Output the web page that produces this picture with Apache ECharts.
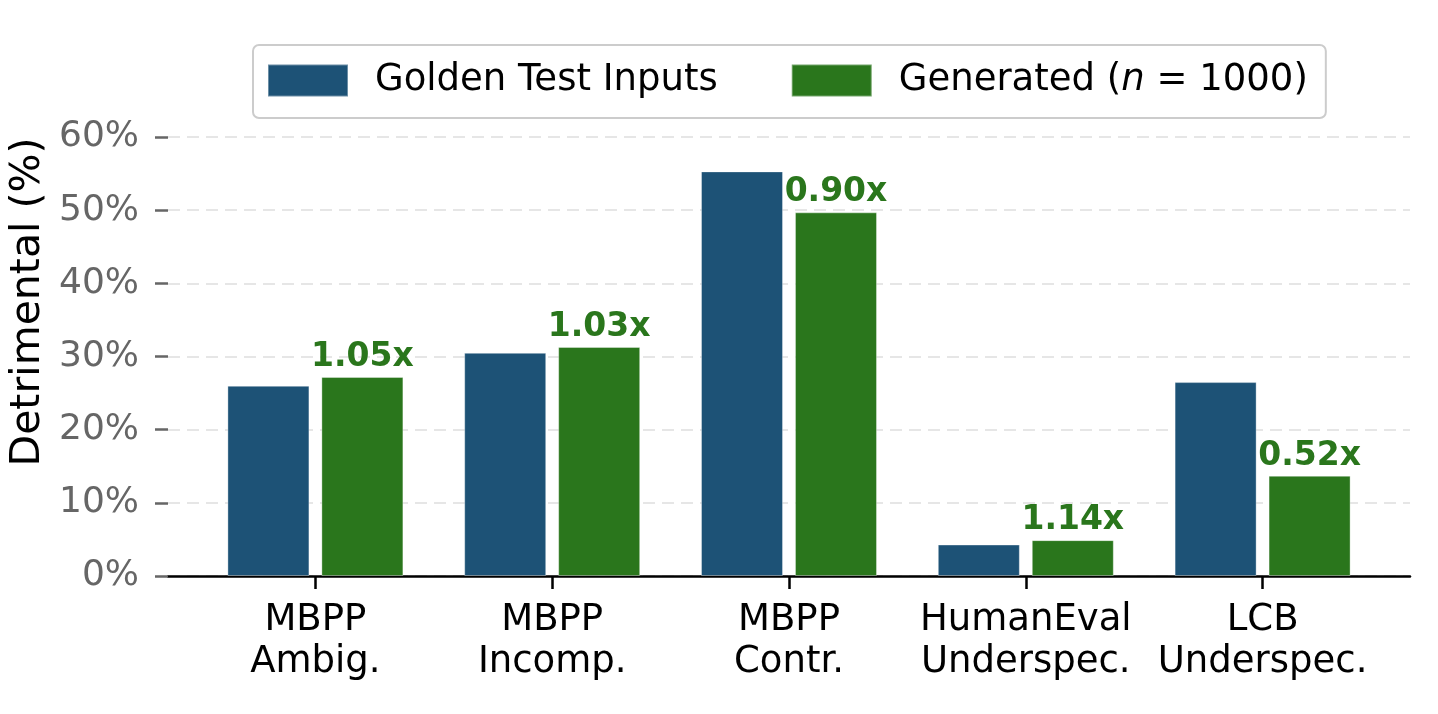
<!DOCTYPE html>
<html>
<head>
<meta charset="utf-8">
<script src="https://cdn.jsdelivr.net/npm/echarts@6/dist/echarts.min.js"></script>
<style>
  html, body { margin: 0; padding: 0; background: #fff; }
  #main { width: 1438px; height: 714px; }
</style>
</head>
<body>
<div id="main"></div>
<script>
// data
var categories = ['MBPP\nAmbig.', 'MBPP\nIncomp.', 'MBPP\nContr.', 'HumanEval\nUnderspec.', 'LCB\nUnderspec.'];
var golden = [26.0, 30.5, 55.3, 4.3, 26.5];
var generated = [27.2, 31.3, 49.7, 4.9, 13.7];
var ratios = ['1.05x', '1.03x', '0.90x', '1.14x', '0.52x'];
var yTicks = [0, 10, 20, 30, 40, 50, 60];

var BLUE = '#1d5276';
var GREEN = '#2a761c';
var FONT = 'DejaVu Sans';

var myChart = echarts.init(document.getElementById('main'));

myChart.setOption({
    animation: false,
    textStyle: { fontFamily: FONT },
    legend: {
        left: 253,
        top: 45,
        padding: [17, 18, 19, 14],
        itemWidth: 80,
        itemHeight: 32,
        itemGap: 73,
        icon: 'rect',
        borderColor: '#cccccc',
        borderWidth: 2,
        borderRadius: 6,
        textStyle: {
            fontSize: 37, color: '#000', fontFamily: FONT, padding: [0, 0, 0, 22],
            rich: { i: { fontStyle: 'italic', fontSize: 37, color: '#000', fontFamily: FONT } }
        },
        data: ['Golden Test Inputs', 'Generated (n = 1000)'],
        formatter: function (name) {
            return name === 'Generated (n = 1000)' ? 'Generated ({i|n} = 1000)' : name;
        }
    },
    grid: [
        // wide frame: y axis, grid lines, bottom spine
        { left: 168, right: 28, top: 137, bottom: 138 },
        // bars
        { left: 197, right: 57, top: 137, bottom: 138 },
        // full axes height (legend area included), only for the y title
        { left: 168, right: 28, top: 28, bottom: 138 }
    ],
    xAxis: [
        {
            gridIndex: 0, type: 'value', min: 0, max: 1,
            axisLine: { show: true, lineStyle: { color: '#000', width: 2.5 } },
            axisTick: { show: false }, axisLabel: { show: false }, splitLine: { show: false }
        },
        {
            gridIndex: 1, type: 'category', data: categories,
            axisLine: { show: false },
            axisTick: { show: true, alignWithLabel: true, interval: 0, length: 13, lineStyle: { color: '#000', width: 2.5 } },
            axisLabel: { interval: 0, fontSize: 37, color: '#000', lineHeight: 42, margin: 23, fontFamily: FONT }
        },
        {
            gridIndex: 2, type: 'value', min: 0, max: 1, show: false
        }
    ],
    yAxis: [
        {
            gridIndex: 0, type: 'value', min: 0, max: 60, interval: 10,
            axisLine: { show: false },
            axisTick: { show: true, length: 13, lineStyle: { color: '#666', width: 2.5 } },
            axisLabel: {
                fontSize: 36, color: '#666', margin: 29, fontFamily: FONT,
                formatter: function (v) { return yTicks.indexOf(v) >= 0 ? v + '%' : ''; }
            },
            splitLine: { show: true, lineStyle: { color: '#e6e6e6', width: 2, type: [12, 7] } }
        },
        {
            gridIndex: 1, type: 'value', min: 0, max: 60, interval: 10, show: false
        },
        {
            gridIndex: 2, type: 'value', min: 0, max: 75,
            name: 'Detrimental (%)', nameLocation: 'middle', nameGap: 160,
            nameTextStyle: { fontSize: 41, color: '#000', fontFamily: FONT },
            axisLine: { show: false }, axisTick: { show: false },
            axisLabel: { show: false }, splitLine: { show: false }
        }
    ],
    series: [
        {
            name: 'Golden Test Inputs', type: 'bar', xAxisIndex: 1, yAxisIndex: 1,
            data: golden, barWidth: 82, barGap: '14.6%',
            itemStyle: { color: BLUE, borderColor: 'rgba(255,255,255,0.35)', borderWidth: 1 }
        },
        {
            name: 'Generated (n = 1000)', type: 'bar', xAxisIndex: 1, yAxisIndex: 1,
            data: generated, barWidth: 82, barGap: '14.6%',
            itemStyle: { color: GREEN, borderColor: 'rgba(255,255,255,0.35)', borderWidth: 1 },
            label: {
                show: true, position: 'top', distance: 3,
                fontSize: 33, fontWeight: 'bold', color: GREEN, fontFamily: FONT,
                formatter: function (p) { return ratios[p.dataIndex]; }
            }
        }
    ]
});
</script>
</body>
</html>
